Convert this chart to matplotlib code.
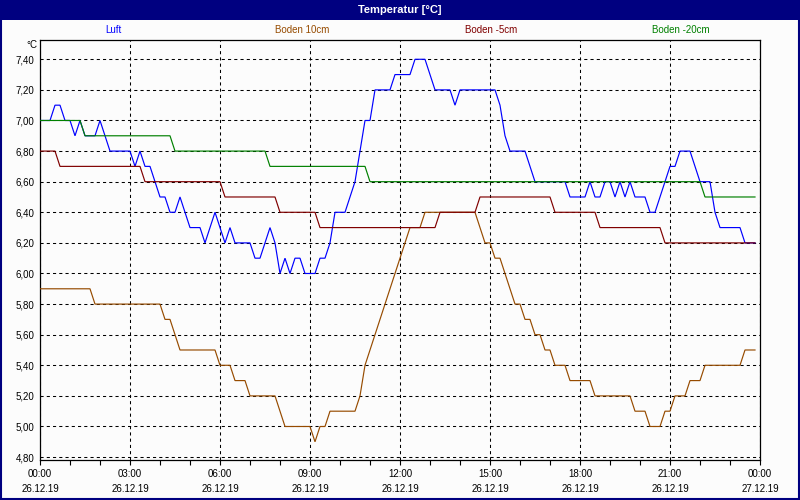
import numpy as np
import matplotlib
matplotlib.use("Agg")
import matplotlib.pyplot as plt
from matplotlib.patches import Rectangle
from matplotlib.ticker import FixedLocator, MultipleLocator

plt.rcParams['font.family'] = ['Liberation Sans', 'DejaVu Sans']

# ---------------- data (10-minute samples, 26.12.19 00:00 .. 23:50) ----------------
series_names = ["Luft", "Boden 10cm", "Boden -5cm", "Boden -20cm"]
series_colors = ["#0000FF", "#964B00", "#800000", "#008000"]

luft = [
    7.0, 7.0, 7.0, 7.1, 7.1, 7.0, 7.0, 6.9, 7.0, 6.9,
    6.9, 6.9, 7.0, 6.9, 6.8, 6.8, 6.8, 6.8, 6.8, 6.7,
    6.8, 6.7, 6.7, 6.6, 6.5, 6.5, 6.4, 6.4, 6.5, 6.4,
    6.3, 6.3, 6.3, 6.2, 6.3, 6.4, 6.3, 6.2, 6.3, 6.2,
    6.2, 6.2, 6.2, 6.1, 6.1, 6.2, 6.3, 6.2, 6.0, 6.1,
    6.0, 6.1, 6.1, 6.0, 6.0, 6.0, 6.1, 6.1, 6.2, 6.4,
    6.4, 6.4, 6.5, 6.6, 6.8, 7.0, 7.0, 7.2, 7.2, 7.2,
    7.2, 7.3, 7.3, 7.3, 7.3, 7.4, 7.4, 7.4, 7.3, 7.2,
    7.2, 7.2, 7.2, 7.1, 7.2, 7.2, 7.2, 7.2, 7.2, 7.2,
    7.2, 7.2, 7.1, 6.9, 6.8, 6.8, 6.8, 6.8, 6.7, 6.6,
    6.6, 6.6, 6.6, 6.6, 6.6, 6.6, 6.5, 6.5, 6.5, 6.5,
    6.6, 6.5, 6.5, 6.6, 6.6, 6.5, 6.6, 6.5, 6.6, 6.5,
    6.5, 6.5, 6.4, 6.4, 6.5, 6.6, 6.7, 6.7, 6.8, 6.8,
    6.8, 6.7, 6.6, 6.6, 6.6, 6.4, 6.3, 6.3, 6.3, 6.3,
    6.3, 6.2, 6.2, 6.2,
]

boden_10 = [
    5.9, 5.9, 5.9, 5.9, 5.9, 5.9, 5.9, 5.9, 5.9, 5.9,
    5.9, 5.8, 5.8, 5.8, 5.8, 5.8, 5.8, 5.8, 5.8, 5.8,
    5.8, 5.8, 5.8, 5.8, 5.8, 5.7, 5.7, 5.6, 5.5, 5.5,
    5.5, 5.5, 5.5, 5.5, 5.5, 5.5, 5.4, 5.4, 5.4, 5.3,
    5.3, 5.3, 5.2, 5.2, 5.2, 5.2, 5.2, 5.2, 5.1, 5.0,
    5.0, 5.0, 5.0, 5.0, 5.0, 4.9, 5.0, 5.0, 5.1, 5.1,
    5.1, 5.1, 5.1, 5.1, 5.2, 5.4, 5.5, 5.6, 5.7, 5.8,
    5.9, 6.0, 6.1, 6.2, 6.3, 6.3, 6.3, 6.4, 6.4, 6.4,
    6.4, 6.4, 6.4, 6.4, 6.4, 6.4, 6.4, 6.4, 6.3, 6.2,
    6.2, 6.1, 6.1, 6.0, 5.9, 5.8, 5.8, 5.7, 5.7, 5.6,
    5.6, 5.5, 5.5, 5.4, 5.4, 5.4, 5.3, 5.3, 5.3, 5.3,
    5.3, 5.2, 5.2, 5.2, 5.2, 5.2, 5.2, 5.2, 5.2, 5.1,
    5.1, 5.1, 5.0, 5.0, 5.0, 5.1, 5.1, 5.2, 5.2, 5.2,
    5.3, 5.3, 5.3, 5.4, 5.4, 5.4, 5.4, 5.4, 5.4, 5.4,
    5.4, 5.5, 5.5, 5.5,
]

boden_m5 = [
    6.8, 6.8, 6.8, 6.8, 6.7, 6.7, 6.7, 6.7, 6.7, 6.7,
    6.7, 6.7, 6.7, 6.7, 6.7, 6.7, 6.7, 6.7, 6.7, 6.7,
    6.7, 6.6, 6.6, 6.6, 6.6, 6.6, 6.6, 6.6, 6.6, 6.6,
    6.6, 6.6, 6.6, 6.6, 6.6, 6.6, 6.6, 6.5, 6.5, 6.5,
    6.5, 6.5, 6.5, 6.5, 6.5, 6.5, 6.5, 6.5, 6.4, 6.4,
    6.4, 6.4, 6.4, 6.4, 6.4, 6.4, 6.3, 6.3, 6.3, 6.3,
    6.3, 6.3, 6.3, 6.3, 6.3, 6.3, 6.3, 6.3, 6.3, 6.3,
    6.3, 6.3, 6.3, 6.3, 6.3, 6.3, 6.3, 6.3, 6.3, 6.3,
    6.4, 6.4, 6.4, 6.4, 6.4, 6.4, 6.4, 6.4, 6.5, 6.5,
    6.5, 6.5, 6.5, 6.5, 6.5, 6.5, 6.5, 6.5, 6.5, 6.5,
    6.5, 6.5, 6.5, 6.4, 6.4, 6.4, 6.4, 6.4, 6.4, 6.4,
    6.4, 6.4, 6.3, 6.3, 6.3, 6.3, 6.3, 6.3, 6.3, 6.3,
    6.3, 6.3, 6.3, 6.3, 6.3, 6.2, 6.2, 6.2, 6.2, 6.2,
    6.2, 6.2, 6.2, 6.2, 6.2, 6.2, 6.2, 6.2, 6.2, 6.2,
    6.2, 6.2, 6.2, 6.2,
]

boden_m20 = [
    7.0, 7.0, 7.0, 7.0, 7.0, 7.0, 7.0, 7.0, 7.0, 6.9,
    6.9, 6.9, 6.9, 6.9, 6.9, 6.9, 6.9, 6.9, 6.9, 6.9,
    6.9, 6.9, 6.9, 6.9, 6.9, 6.9, 6.9, 6.8, 6.8, 6.8,
    6.8, 6.8, 6.8, 6.8, 6.8, 6.8, 6.8, 6.8, 6.8, 6.8,
    6.8, 6.8, 6.8, 6.8, 6.8, 6.8, 6.7, 6.7, 6.7, 6.7,
    6.7, 6.7, 6.7, 6.7, 6.7, 6.7, 6.7, 6.7, 6.7, 6.7,
    6.7, 6.7, 6.7, 6.7, 6.7, 6.7, 6.6, 6.6, 6.6, 6.6,
    6.6, 6.6, 6.6, 6.6, 6.6, 6.6, 6.6, 6.6, 6.6, 6.6,
    6.6, 6.6, 6.6, 6.6, 6.6, 6.6, 6.6, 6.6, 6.6, 6.6,
    6.6, 6.6, 6.6, 6.6, 6.6, 6.6, 6.6, 6.6, 6.6, 6.6,
    6.6, 6.6, 6.6, 6.6, 6.6, 6.6, 6.6, 6.6, 6.6, 6.6,
    6.6, 6.6, 6.6, 6.6, 6.6, 6.6, 6.6, 6.6, 6.6, 6.6,
    6.6, 6.6, 6.6, 6.6, 6.6, 6.6, 6.6, 6.6, 6.6, 6.6,
    6.6, 6.6, 6.6, 6.5, 6.5, 6.5, 6.5, 6.5, 6.5, 6.5,
    6.5, 6.5, 6.5, 6.5,
]

x_tick_hours = [0, 3, 6, 9, 12, 15, 18, 21, 24]
x_tick_labels = ["00:00\n26.12.19", "03:00\n26.12.19", "06:00\n26.12.19",
                 "09:00\n26.12.19", "12:00\n26.12.19", "15:00\n26.12.19",
                 "18:00\n26.12.19", "21:00\n26.12.19", "00:00\n27.12.19"]
y_ticks = [4.8, 5.0, 5.2, 5.4, 5.6, 5.8, 6.0, 6.2, 6.4, 6.6, 6.8, 7.0, 7.2, 7.4]
y_tick_labels = ["4,80", "5,00", "5,20", "5,40", "5,60", "5,80", "6,00",
                 "6,20", "6,40", "6,60", "6,80", "7,00", "7,20", "7,40"]

# sample times in hours (10-minute interval)
t_hours = np.arange(len(luft)) / 6.0

# ---------------- figure ----------------
W, H = 800, 500
fig = plt.figure(figsize=(W / 100, H / 100), dpi=100)
fig.patch.set_facecolor("#FCFCFC")

NAVY = "#000080"
# title bar
fig.add_artist(Rectangle((0, 1 - 20 / H), 1, 20 / H, transform=fig.transFigure,
                         facecolor=NAVY, edgecolor="none", zorder=0))
# outer frame
fig.add_artist(Rectangle((1 / W, 1 / H), 1 - 2 / W, 1 - 2 / H, transform=fig.transFigure,
                         facecolor="none", edgecolor=NAVY, linewidth=1.5, zorder=10))
fig.text(0.5, 1 - 10 / H, "Temperatur [°C]", color="white", fontsize=8,
         fontweight="bold", ha="center", va="center")

# legend row
leg_x = [113, 302, 491, 681]
for name, col, lx in zip(series_names, series_colors, leg_x):
    fig.text(lx / W, 1 - 30 / H, name, color=col, fontsize=7, ha="center", va="center")

ax = fig.add_axes([40 / W, 40 / H, 720 / W, 420 / H])
ax.set_facecolor("#FCFCFC")

series = [luft, boden_10, boden_m5, boden_m20]
for vals, col in zip(series, series_colors):
    ax.plot(t_hours, vals, color=col, linewidth=0.85, solid_joinstyle="miter", zorder=3)

ax.set_xlim(0, 24)
ax.set_ylim(4.781, 7.526)

ax.xaxis.set_major_locator(FixedLocator(x_tick_hours))
ax.set_xticklabels(x_tick_labels)
ax.xaxis.set_minor_locator(MultipleLocator(1))
ax.set_yticks(y_ticks)
ax.set_yticklabels(y_tick_labels)

ax.tick_params(axis="x", which="both", direction="out", length=3.5, width=0.8,
               labelsize=7, pad=3, color="black")
ax.tick_params(axis="y", which="both", length=0, labelsize=7, pad=4)
for lbl in ax.get_xticklabels():
    lbl.set_linespacing(1.65)

ax.grid(True, which="major", color="black", linestyle=(0, (3, 3)), linewidth=0.75, zorder=1)
ax.set_axisbelow(True)
for sp in ax.spines.values():
    sp.set_color("black")
    sp.set_linewidth(0.9)

fig.text(37 / W, 1 - 45 / H, "°C", fontsize=7, ha="right", va="center", color="black")

fig.savefig("out.png", dpi=100, facecolor=fig.get_facecolor())
